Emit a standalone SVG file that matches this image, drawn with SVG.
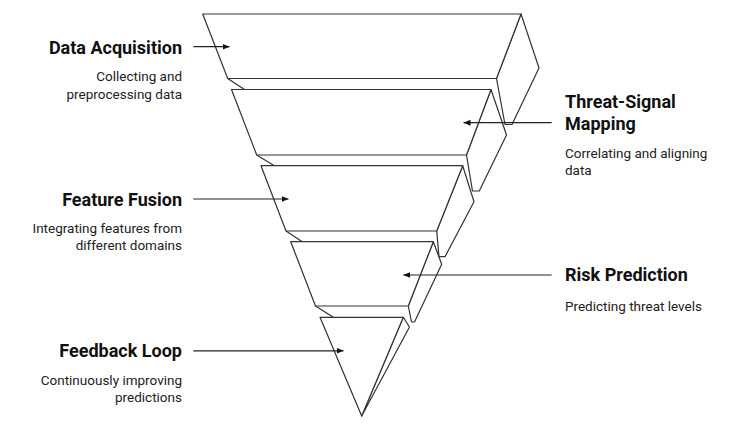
<svg xmlns="http://www.w3.org/2000/svg" width="736" height="429" viewBox="0 0 736 429">
<defs>
<style>
.face{fill:#fff;stroke:#333;stroke-width:1.2;stroke-linejoin:round}
.bev{stroke:#333;stroke-width:1.2;fill:none}
.conn{stroke:#222;stroke-width:1.2;fill:none}
.title{font-family:Roboto,"Liberation Sans",sans-serif;font-weight:700;font-size:18px;fill:#111}
.desc{font-family:Roboto,"Liberation Sans",sans-serif;font-size:13.5px;fill:#222}
.r{text-anchor:end}
</style>
<marker id="ah" markerUnits="userSpaceOnUse" markerWidth="8" markerHeight="8" refX="7" refY="4" orient="auto">
<path d="M0,1 L7,4 L0,7 Z" fill="#111"/>
</marker>
</defs>
<rect width="736" height="429" fill="#fff"/>
<g id="level1">
<polygon class="face" points="521,14 539,68 512,124.5 505,124.5 496.5,78.5"/>
<line class="bev" x1="227.7" y1="78.5" x2="244.5" y2="89.5"/>
<polygon class="face" points="202.7,14 521,14 496.5,78.5 227.7,78.5"/>
<text class="title r" x="182" y="53.5">Data Acquisition</text>
<text class="desc r" x="182" y="80.5">Collecting and</text>
<text class="desc r" x="182" y="98.5">preprocessing data</text>
</g>
<g id="level2">
<polygon class="face" points="491,89.5 506.5,135 479.3,191 472.5,191 466.5,155"/>
<line class="bev" x1="256.7" y1="155" x2="274.3" y2="165.7"/>
<polygon class="face" points="231.5,89.5 491,89.5 466.5,155 256.7,155"/>
<text class="title" x="565" y="107.5">Threat-Signal</text>
<text class="title" x="565" y="129.5">Mapping</text>
<text class="desc" x="565" y="157.5">Correlating and aligning</text>
<text class="desc" x="565" y="174.5">data</text>
</g>
<g id="level3">
<polygon class="face" points="462.7,165.7 474,201.7 445,256.7 439,256.7 436.7,231"/>
<line class="bev" x1="286" y1="231" x2="302.3" y2="241.7"/>
<polygon class="face" points="261,165.7 462.7,165.7 436.7,231 286,231"/>
<text class="title r" x="182" y="205.5">Feature Fusion</text>
<text class="desc r" x="182" y="232.5">Integrating features from</text>
<text class="desc r" x="182" y="249.5">different domains</text>
</g>
<g id="level4">
<polygon class="face" points="433.3,241.7 441.7,264.3 414.5,322 411.5,322 408.3,306"/>
<line class="bev" x1="315.5" y1="306" x2="333.3" y2="317.3"/>
<polygon class="face" points="290.7,241.7 433.3,241.7 408.3,306 315.5,306"/>
<text class="title" x="565" y="281">Risk Prediction</text>
<text class="desc" x="565" y="311">Predicting threat levels</text>
</g>
<g id="level5">
<polygon class="face" points="403.3,317.3 409.5,327 361.7,416"/>
<polygon class="face" points="320,317.3 403.3,317.3 361.7,416"/>
<text class="title r" x="182" y="357">Feedback Loop</text>
<text class="desc r" x="182" y="385">Continuously improving</text>
<text class="desc r" x="182" y="402">predictions</text>
</g>
<g id="connectors">
<line class="conn" x1="193.3" y1="46.7" x2="229.5" y2="46.7" marker-end="url(#ah)"/>
<line class="conn" x1="551.7" y1="122.7" x2="463.5" y2="122.7" marker-end="url(#ah)"/>
<line class="conn" x1="193.3" y1="199" x2="288.5" y2="199" marker-end="url(#ah)"/>
<line class="conn" x1="551.7" y1="275" x2="403.3" y2="275" marker-end="url(#ah)"/>
<line class="conn" x1="193.3" y1="350.8" x2="343.5" y2="350.8" marker-end="url(#ah)"/>
</g>
</svg>
